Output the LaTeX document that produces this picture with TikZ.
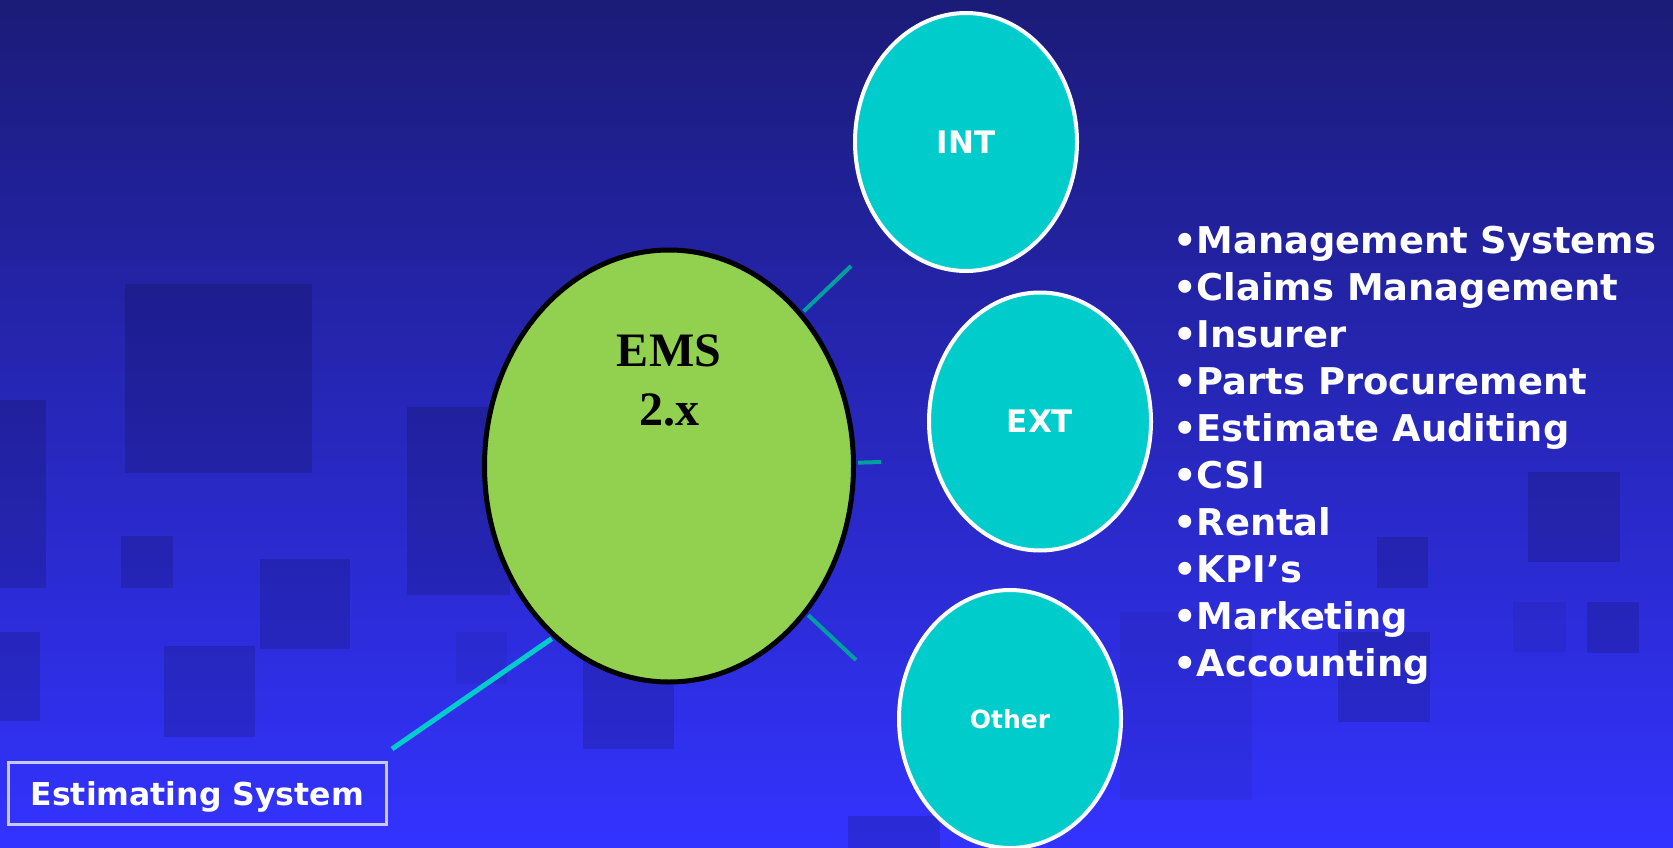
\documentclass[tikz,border=0pt]{standalone}
\usepackage{fontspec}
\usetikzlibrary{shapes.geometric}
\newfontfamily\verdfont{DejaVu Sans}
\newfontfamily\timesfont{Liberation Serif}
\definecolor{bgtop}{RGB}{27,27,120}
\definecolor{bgbot}{RGB}{51,51,255}
\definecolor{emsgreen}{RGB}{146,208,80}
\definecolor{cyanfill}{RGB}{0,204,204}
\definecolor{tealline}{RGB}{0,160,160}
\definecolor{boxedge}{RGB}{200,200,255}
\begin{document}
\begin{tikzpicture}[x=1pt,y=-1pt,
  sq/.style={fill=black,fill opacity=0.14,draw=none},
  sqf/.style={fill=black,fill opacity=0.06,draw=none},
  hub/.style={ellipse,draw=black,line width=5pt,fill=emsgreen,minimum width=369pt,minimum height=432pt,inner sep=0pt},
  sat/.style={ellipse,draw=white,line width=4pt,fill=cyanfill,minimum width=222pt,minimum height=258pt,inner sep=0pt,text=white},
  satfont/.style={font=\verdfont\bfseries\fontsize{31}{37}\selectfont},
  spoke/.style={draw=tealline,line width=4pt,shorten <=2pt},
  item/.style={anchor=base west,inner sep=0pt,text=white,font=\verdfont\bfseries\fontsize{36.85}{44}\selectfont},
  emstext/.style={anchor=base,inner sep=0pt,text=black,font=\timesfont\bfseries\fontsize{48}{58}\selectfont}
]
\useasboundingbox (0,0) rectangle (1673,848);
\fill[top color=bgtop,bottom color=bgbot] (0,0) rectangle (1673,848);
% background squares
\fill[sq] (125,284) rectangle (312,473);
\fill[sq] (0,400) rectangle (46,588);
\fill[sq] (121,536) rectangle (173,588);
\fill[sq] (260,559) rectangle (350,649);
\fill[sq] (0,632) rectangle (40,721);
\fill[sq] (164,646) rectangle (255,737);
\fill[sq] (407,407) rectangle (510,595);
\fill[sqf] (456,632) rectangle (507,684);
\fill[sq] (583,660) rectangle (674,749);
\fill[sq] (848,816) rectangle (940,848);
\fill[sqf] (1120,612) rectangle (1252,800);
\fill[sq] (1338,632) rectangle (1430,722);
\fill[sq] (1377,537) rectangle (1428,588);
\fill[sq] (1528,472) rectangle (1620,562);
\fill[sqf] (1513,602) rectangle (1566,652);
\fill[sq] (1587,602) rectangle (1639,653);
% nodes
\node[hub] (ems) at (669,466) {};
\node[emstext] (emsa) at (669,366.7) {EMS};
\node[emstext] (emsb) at (669,425) {2.x};
\node[sat,satfont] (int) at (966,142) {INT};
\node[sat,satfont] (ext) at (1040,421.5) {EXT};
\node[sat,font=\verdfont\bfseries\fontsize{25}{30}\selectfont] (other) at (1010,719) {Other};
\node[draw=boxedge,line width=3pt,minimum width=378.5pt,minimum height=62pt,inner sep=0pt,
  text height=23pt,text depth=0pt,text=white,font=\verdfont\bfseries\fontsize{31.5}{38}\selectfont]
  (est) at (197.3,793.5) {Estimating System};
% connectors
\coordinate (t1) at (851,266);
\coordinate (t2) at (881,462);
\coordinate (t3) at (856,660);
\coordinate (estend) at (392,749);
\draw[spoke] (ems.49.5) -- (t1);
\draw[spoke] (ems.1.2) -- (t2);
\draw[spoke] (ems.-47.2) -- (t3);
\draw[draw=cyanfill,line width=5pt,shorten <=2pt] (ems.236.5) -- (estend);
% bullet list
\foreach \t [count=\i from 0] in {Management Systems,Claims Management,Insurer,Parts Procurement,Estimate Auditing,CSI,Rental,KPI’s,Marketing,Accounting}
  \node[item] (item\i) at (1173,{253.3+47.04*\i}) {•\t};
\end{tikzpicture}
\end{document}
